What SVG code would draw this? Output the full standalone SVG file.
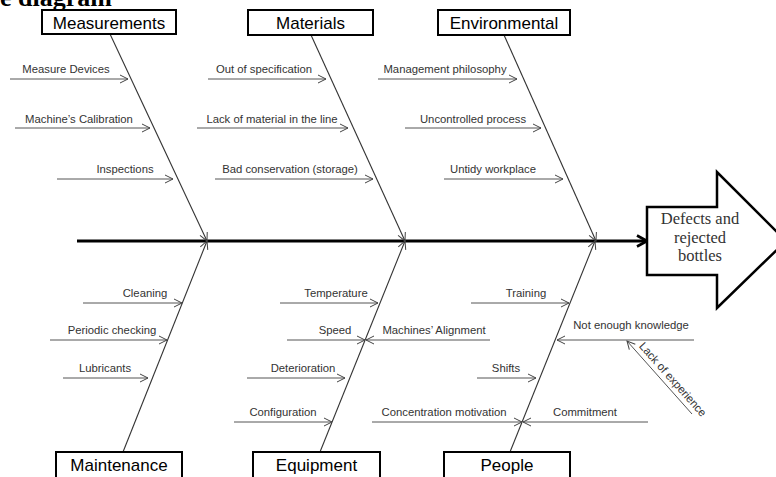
<svg xmlns="http://www.w3.org/2000/svg" width="776" height="477" viewBox="0 0 776 477">
<defs>
<style>
.box{fill:#fff;stroke:#000;stroke-width:2}
.cat{font-family:"Liberation Sans",Arial,sans-serif;font-size:17px;fill:#000;text-anchor:middle}
.lbl{font-family:"Liberation Sans",Arial,sans-serif;font-size:11.3px;fill:#333;text-anchor:middle}
.sub{stroke:#555;stroke-width:1;fill:none;marker-end:url(#a)}
.bone{stroke:#333;stroke-width:1.1;fill:none;marker-end:url(#a)}
.eff{font-family:"Liberation Serif","Times New Roman",serif;font-size:16.5px;fill:#333;text-anchor:middle}
</style>
<marker id="a" viewBox="0 0 10 10" markerUnits="userSpaceOnUse" markerWidth="10" markerHeight="10" refX="9" refY="5" orient="auto">
<path d="M1,1 L9,5 L1,9" fill="none" stroke="#444" stroke-width="1"/>
</marker>
<marker id="big" viewBox="0 0 14 14" markerUnits="userSpaceOnUse" markerWidth="14" markerHeight="14" refX="12" refY="7" orient="auto">
<path d="M2,1.5 L12,7 L2,12.5" fill="none" stroke="#000" stroke-width="2.6"/>
</marker>
</defs>
<rect width="776" height="477" fill="#fff"/>
<text x="0" y="6" font-family="Liberation Serif,serif" font-weight="bold" font-size="26" fill="#000">e diagram</text>

<g id="connectors">
<line x1="77" y1="241" x2="647" y2="241" stroke="#000" stroke-width="3" marker-end="url(#big)"/>
<line class="bone" x1="110" y1="34" x2="207" y2="241"/>
<line class="bone" x1="311" y1="35" x2="405" y2="241"/>
<line class="bone" x1="504" y1="35" x2="596" y2="241"/>
<line class="bone" x1="123" y1="452" x2="207" y2="241"/>
<line class="bone" x1="320" y1="452" x2="405" y2="241"/>
<line class="bone" x1="510" y1="452" x2="595" y2="241"/>
<line class="sub" x1="10" y1="79" x2="128" y2="79"/>
<line class="sub" x1="15" y1="128" x2="150" y2="128"/>
<line class="sub" x1="57" y1="179" x2="173" y2="179"/>
<line class="sub" x1="208" y1="79" x2="326" y2="79"/>
<line class="sub" x1="197" y1="128" x2="348" y2="128"/>
<line class="sub" x1="215" y1="179" x2="373" y2="179"/>
<line class="sub" x1="378" y1="79" x2="517" y2="79"/>
<line class="sub" x1="405" y1="128" x2="541" y2="128"/>
<line class="sub" x1="444" y1="179" x2="563" y2="179"/>
<line class="sub" x1="83" y1="303" x2="182" y2="303"/>
<line class="sub" x1="50" y1="340" x2="167" y2="340"/>
<line class="sub" x1="63" y1="378" x2="148" y2="378"/>
<line class="sub" x1="280" y1="303" x2="378" y2="303"/>
<line class="sub" x1="287" y1="340" x2="365" y2="340"/>
<line class="sub" x1="490" y1="340" x2="366" y2="340"/>
<line class="sub" x1="247" y1="378" x2="345" y2="378"/>
<line class="sub" x1="234" y1="422" x2="332" y2="422"/>
<line class="sub" x1="471" y1="303" x2="569" y2="303"/>
<line class="sub" x1="694" y1="340" x2="557" y2="340"/>
<line class="sub" x1="692" y1="414" x2="627" y2="341"/>
<line class="sub" x1="477" y1="378" x2="536" y2="378"/>
<line class="sub" x1="372" y1="422" x2="522" y2="422"/>
<line class="sub" x1="648" y1="422" x2="523" y2="422"/>
</g>

<g id="measurements"><rect class="box" x="42" y="10" width="134" height="24"/><text class="cat" x="109" y="29">Measurements</text></g>
<g id="materials"><rect class="box" x="248" y="10" width="125" height="25"/><text class="cat" x="310.5" y="29">Materials</text></g>
<g id="environmental"><rect class="box" x="438" y="10" width="132" height="25"/><text class="cat" x="504" y="29">Environmental</text></g>
<g id="maintenance"><rect class="box" x="56" y="452" width="126" height="30"/><text class="cat" x="119" y="471">Maintenance</text></g>
<g id="equipment"><rect class="box" x="253" y="452" width="127" height="30"/><text class="cat" x="316.5" y="471">Equipment</text></g>
<g id="people"><rect class="box" x="444" y="452" width="126" height="30"/><text class="cat" x="507" y="471">People</text></g>

<g id="effect">
<path d="M647,207 L717,207 L717,172 L786,241 L717,308 L717,275 L647,275 Z" fill="#fff" stroke="#000" stroke-width="2.5"/>
<text class="eff" x="700" y="224">Defects and</text>
<text class="eff" x="700" y="243">rejected</text>
<text class="eff" x="700" y="261">bottles</text>
</g>

<g id="cause-labels">
<text class="lbl" x="66" y="73">Measure Devices</text>
<text class="lbl" x="79" y="123">Machine’s Calibration</text>
<text class="lbl" x="125" y="173">Inspections</text>
<text class="lbl" x="264" y="73">Out of specification</text>
<text class="lbl" x="272" y="123">Lack of material in the line</text>
<text class="lbl" x="290" y="173">Bad conservation (storage)</text>
<text class="lbl" x="445" y="73">Management philosophy</text>
<text class="lbl" x="473" y="123">Uncontrolled process</text>
<text class="lbl" x="493" y="173">Untidy workplace</text>
<text class="lbl" x="145" y="297">Cleaning</text>
<text class="lbl" x="112" y="334">Periodic checking</text>
<text class="lbl" x="105" y="372">Lubricants</text>
<text class="lbl" x="336" y="297">Temperature</text>
<text class="lbl" x="335" y="334">Speed</text>
<text class="lbl" x="434" y="334">Machines’ Alignment</text>
<text class="lbl" x="303" y="372">Deterioration</text>
<text class="lbl" x="283" y="416">Configuration</text>
<text class="lbl" x="526" y="297">Training</text>
<text class="lbl" x="631" y="329">Not enough knowledge</text>
<text class="lbl" x="506" y="372">Shifts</text>
<text class="lbl" x="444" y="416">Concentration motivation</text>
<text class="lbl" x="585" y="416">Commitment</text>
<text class="lbl" font-size="9.5" x="670" y="382" transform="rotate(48.3 670 382)">Lack of experience</text>
</g>
</svg>
